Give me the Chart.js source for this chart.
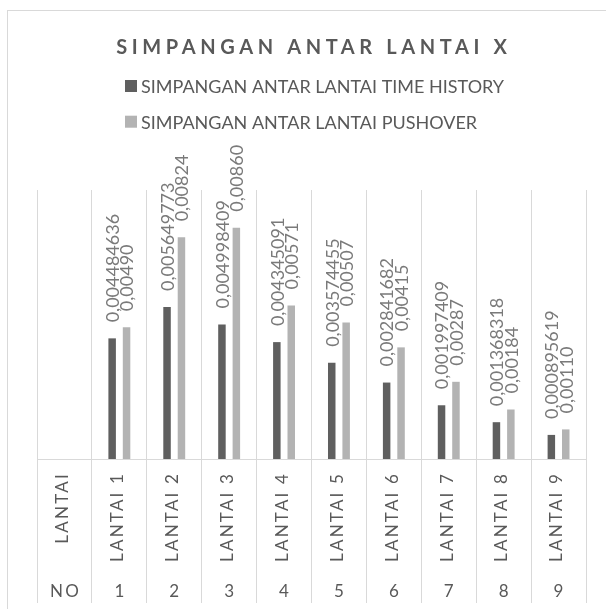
<!DOCTYPE html>
<html>
<head>
<meta charset="utf-8">
<script src="https://cdn.jsdelivr.net/npm/chart.js@4.4.1/dist/chart.umd.min.js"></script>
<style>
  html, body { margin: 0; padding: 0; background: #fff; overflow: hidden; }
  #frame { position: absolute; left: 7px; top: 10px; width: 700px; height: 598px;
           border: 1px solid #d9d9d9; border-bottom: none; }
  #chart { position: absolute; left: 0; top: 0; }
</style>
</head>
<body>
<div id="frame"></div>
<canvas id="chart" width="606" height="611"></canvas>
<script>
const chartTitle = 'SIMPANGAN ANTAR LANTAI X';
const headerName = 'LANTAI';
const headerNo = 'NO';
const floorNames = ['LANTAI 1', 'LANTAI 2', 'LANTAI 3', 'LANTAI 4', 'LANTAI 5', 'LANTAI 6', 'LANTAI 7', 'LANTAI 8', 'LANTAI 9'];
const floorNo = ['1', '2', '3', '4', '5', '6', '7', '8', '9'];
const timeHistory = [0.004484636, 0.005649773, 0.004998409, 0.004345091, 0.003574455, 0.002841682, 0.001997409, 0.001368318, 0.000895619];
const pushover = [0.00490, 0.00824, 0.00860, 0.00571, 0.00507, 0.00415, 0.00287, 0.00184, 0.00110];
const seriesNames = ['SIMPANGAN ANTAR LANTAI TIME HISTORY', 'SIMPANGAN ANTAR LANTAI PUSHOVER'];

const FONT = 'Lato';
const textGray = '#595959';

// label format like Excel (comma decimal)
const fmt = (v, dec) => (dec == null ? String(v) : v.toFixed(dec)).replace('.', ',');

const excelText = {
    id: 'excelText',
    afterDraw(chart) {
        const ctx = chart.ctx;
        const area = chart.chartArea;
        const xs = chart.scales.x;
        ctx.save();

        // titre
        ctx.font = 'bold 20px ' + FONT;
        ctx.letterSpacing = '4.6px';
        ctx.fillStyle = textGray;
        ctx.textAlign = 'center';
        ctx.textBaseline = 'middle';
        ctx.fillText(chartTitle, (area.left + area.right) / 2 + 2.3, 48);

        // legende
        ctx.letterSpacing = '0px';
        ctx.font = '18px ' + FONT;
        ctx.textAlign = 'left';
        chart.data.datasets.forEach((ds, i) => {
            const y = 86 + i * 35.7;
            ctx.fillStyle = ds.backgroundColor;
            ctx.fillRect(125, y - 6, 12, 12);
            ctx.fillStyle = textGray;
            ctx.fillText(ds.label, 141, y + 1);
        });

        // etiquettes des barres
        ctx.font = '18px ' + FONT;
        ctx.fillStyle = '#7a7a7a';
        chart.data.datasets.forEach((ds, di) => {
            const meta = chart.getDatasetMeta(di);
            meta.data.forEach((bar, i) => {
                const v = ds.data[i];
                if (v == null) return;
                ctx.save();
                ctx.translate(bar.x + 1, bar.y - 16);
                ctx.rotate(-Math.PI / 2);
                ctx.textAlign = 'left';
                ctx.textBaseline = 'middle';
                ctx.fillText(fmt(v, ds.decimals), 0, 0);
                ctx.restore();
            });
        });

        // categories sur deux niveaux
        ctx.fillStyle = textGray;
        ctx.font = '17px ' + FONT;
        ctx.letterSpacing = '2.2px';
        const cats = [headerName].concat(floorNames);
        const nums = [headerNo].concat(floorNo);
        cats.forEach((lab, i) => {
            const x = xs.getPixelForValue(i);
            const cap = ctx.measureText(lab).actualBoundingBoxAscent;
            ctx.save();
            ctx.translate(x, i === 0 ? 509 : 518);
            ctx.rotate(-Math.PI / 2);
            ctx.textAlign = 'center';
            ctx.textBaseline = 'alphabetic';
            ctx.fillText(lab, 1.1, cap / 2);
            ctx.restore();
        });
        ctx.textAlign = 'center';
        ctx.textBaseline = 'middle';
        nums.forEach((n, i) => {
            const x = xs.getPixelForValue(i);
            ctx.fillText(n, x + 1.1, 592);
        });

        ctx.restore();
    }
};

const ctxChart = document.getElementById('chart');
new Chart(ctxChart, {
    type: 'bar',
    data: {
        labels: [headerName].concat(floorNames),
        datasets: [{
            label: seriesNames[0],
            data: [null].concat(timeHistory),
            backgroundColor: '#5f5f5f',
            decimals: null
        }, {
            label: seriesNames[1],
            data: [null].concat(pushover),
            backgroundColor: '#b3b3b3',
            decimals: 5
        }]
    },
    options: {
        responsive: false,
        animation: false,
        devicePixelRatio: 1,
        categoryPercentage: 0.525,
        barPercentage: 0.52,
        layout: {
            padding: { top: 190, left: 37, right: 20, bottom: 8 }
        },
        scales: {
            x: {
                offset: true,
                grid: {
                    offset: true,
                    color: '#d9d9d9',
                    tickColor: '#d9d9d9',
                    tickLength: 144
                },
                border: { color: '#d9d9d9' },
                ticks: { display: false }
            },
            y: {
                display: false,
                min: 0,
                max: 0.01
            }
        },
        plugins: {
            legend: { display: false },
            title: { display: false },
            tooltip: { enabled: false }
        }
    },
    plugins: [excelText]
});
</script>
</body>
</html>
